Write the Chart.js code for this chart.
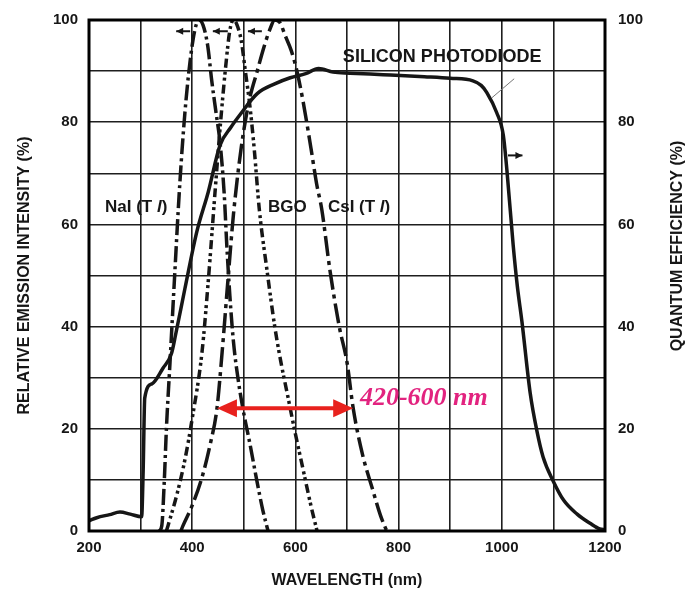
<!DOCTYPE html>
<html>
<head>
<meta charset="utf-8">
<script src="https://cdn.jsdelivr.net/npm/chart.js@4.4.1/dist/chart.umd.min.js"></script>
<style>
  html, body { margin: 0; padding: 0; background: #fff; }
</style>
</head>
<body>
<canvas id="spectra" width="687" height="594"></canvas>
<script>
// Scintillator emission spectra vs. silicon photodiode quantum efficiency

// silicon photodiode (right axis, %)
const siliconNm = [200, 215, 240, 260, 280, 302, 305, 308, 322, 343, 360, 368, 386, 409, 431, 454, 475, 493, 526, 560, 590, 620, 645, 673, 706, 770, 850, 900, 944, 960, 971, 990, 1003, 1010, 1022, 1030, 1039, 1055, 1068, 1080, 1099, 1120, 1146, 1171, 1190, 1200];
const siliconQE = [2.0, 2.6, 3.2, 3.7, 3.3, 2.8, 12, 26, 28.8, 31.8, 34.8, 38.5, 47.5, 58.6, 66.3, 75.5, 79, 81.5, 85.6, 87.5, 88.7, 89.5, 90.5, 89.8, 89.6, 89.3, 88.9, 88.6, 88.1, 87.2, 85.8, 81.9, 77.4, 70.5, 56, 48, 41, 27, 19.6, 14.5, 9.9, 6, 3.3, 1.5, 0.4, 0.3];

// NaI(Tl) emission (left axis, %)
const naiNm  = [336, 341, 346, 350, 357, 366, 376, 386, 396, 405, 413, 421, 430, 438, 446, 454, 462, 467, 473, 480, 490, 500, 512, 525, 537, 547];
const naiInt = [0, 1, 10, 20, 33, 50, 68, 82, 92, 98, 100, 99, 95, 88, 82, 76, 66, 56, 46, 37, 29, 23, 17, 10, 4, 0];

// BGO emission
const bgoNm  = [350, 353, 370, 386, 400, 419, 432, 444, 455, 465, 473, 480, 487, 495, 503, 512, 520, 530, 545, 560, 572, 584, 600, 615, 630, 642];
const bgoInt = [0, 1, 7, 14, 22, 35, 50, 66, 80, 91, 98, 100, 99, 96, 90, 83, 75, 63, 51, 40, 33, 27, 19, 12, 5, 0];

// CsI(Tl) emission
const csiNm  = [378, 382, 400, 419, 435, 448, 458, 470, 480, 495, 510, 526, 540, 550, 560, 570, 580, 592, 603, 615, 630, 641, 651, 667, 685, 700, 712, 730, 750, 765, 777];
const csiInt = [0, 1, 5, 10.5, 17, 24, 35, 50, 62, 75, 84, 90, 95, 98, 100, 99.5, 97, 94, 90, 84, 75, 68, 63, 51, 40, 33, 24, 15, 8, 3, 0];

const FONT = "'Liberation Sans', Arial, sans-serif";
const INK = '#161616';

function points(xs, ys) {
    return xs.map((x, i) => ({ x: x, y: ys[i] }));
}

function curve(label, xs, ys, dash, axis) {
    return {
        label: label,
        data: points(xs, ys),
        yAxisID: axis || 'y',
        borderColor: INK,
        borderWidth: 3.5,
        borderDash: dash,
        borderCapStyle: 'butt',
        pointRadius: 0,
        fill: false,
        cubicInterpolationMode: 'monotone',
    };
}

// little left/right pointing arrows, red range arrow, labels, frame
const annotations = {
    id: 'annotations',
    beforeDraw(chart) {
        const ctx = chart.ctx;
        ctx.save();
        ctx.fillStyle = '#fff';
        ctx.fillRect(0, 0, chart.width, chart.height);
        ctx.restore();
    },
    afterDatasetsDraw(chart) {
        const ctx = chart.ctx;
        const xs = chart.scales.x, ys = chart.scales.y;
        const px = v => xs.getPixelForValue(v);
        const py = v => ys.getPixelForValue(v);
        const area = chart.chartArea;

        ctx.save();

        // frame
        ctx.strokeStyle = '#000';
        ctx.lineWidth = 3;
        ctx.strokeRect(area.left, area.top, area.right - area.left, area.bottom - area.top);

        // small axis pointers
        function pointer(x0, x1, v, head) {
            const y = py(v);
            ctx.strokeStyle = INK;
            ctx.fillStyle = INK;
            ctx.lineWidth = 2;
            ctx.beginPath();
            ctx.moveTo(px(x0), y);
            ctx.lineTo(px(x1), y);
            ctx.stroke();
            const hx = px(head === 'left' ? x0 : x1);
            const d = head === 'left' ? 7 : -7;
            ctx.beginPath();
            ctx.moveTo(hx, y);
            ctx.lineTo(hx + d, y - 3.5);
            ctx.lineTo(hx + d, y + 3.5);
            ctx.closePath();
            ctx.fill();
        }
        pointer(369, 396, 97.8, 'left');
        pointer(440, 469, 97.8, 'left');
        pointer(508, 535, 97.8, 'left');
        pointer(1012, 1040, 73.5, 'right');

        // leader line from label to photodiode curve
        ctx.strokeStyle = '#777';
        ctx.lineWidth = 1;
        ctx.beginPath();
        ctx.moveTo(px(1024), py(88.5));
        ctx.lineTo(px(981), py(84.8));
        ctx.stroke();

        // red range arrow
        const ay = py(24);
        const ax0 = px(448), ax1 = px(712);
        ctx.strokeStyle = '#e8211d';
        ctx.fillStyle = '#e8211d';
        ctx.lineWidth = 4;
        ctx.beginPath();
        ctx.moveTo(ax0 + 14, ay);
        ctx.lineTo(ax1 - 14, ay);
        ctx.stroke();
        [[ax0, 1], [ax1, -1]].forEach(([hx, dir]) => {
            ctx.beginPath();
            ctx.moveTo(hx, ay);
            ctx.lineTo(hx + dir * 20, ay - 9);
            ctx.lineTo(hx + dir * 20, ay + 9);
            ctx.closePath();
            ctx.fill();
        });

        ctx.font = "italic bold 26px 'Liberation Serif', 'Times New Roman', serif";
        ctx.fillStyle = '#e2237f';
        ctx.textBaseline = 'middle';
        ctx.textAlign = 'left';
        ctx.fillText('420-600 nm', px(725), py(25.9));

        // curve labels (italic l in Tl)
        function label(parts, nm, v, size) {
            let x = px(nm);
            const y = py(v);
            ctx.fillStyle = INK;
            parts.forEach(([txt, italic]) => {
                ctx.font = (italic ? 'italic ' : '') + 'bold ' + size + 'px ' + FONT;
                ctx.fillText(txt, x, y);
                x += ctx.measureText(txt).width;
            });
        }
        label([['NaI (T ', false], ['l', true], [')', false]], 231, 63.4, 17);
        label([['BGO', false]], 547, 63.4, 17);
        label([['CsI (T ', false], ['l', true], [')', false]], 663, 63.4, 17);
        label([['SILICON PHOTODIODE', false]], 692, 92.8, 18);

        // right axis title, reading bottom to top
        ctx.font = 'bold 16px ' + FONT;
        ctx.fillStyle = INK;
        ctx.textAlign = 'center';
        ctx.translate(678, 246);
        ctx.rotate(-Math.PI / 2);
        ctx.fillText('QUANTUM EFFICIENCY (%)', 0, 0);

        ctx.restore();
    }
};

const tickFont = { family: FONT, size: 15, weight: 'bold' };
const gridStyle = { color: '#1e1e1e', lineWidth: 1.6, drawTicks: false };

new Chart(document.getElementById('spectra'), {
    type: 'line',
    data: {
        datasets: [
            curve('Silicon photodiode', siliconNm, siliconQE, [], 'y2'),
            curve('NaI(Tl)', naiNm, naiInt, [16, 4, 3, 4]),
            curve('BGO', bgoNm, bgoInt, [9, 4, 3, 3, 3, 4]),
            curve('CsI(Tl)', csiNm, csiInt, [20, 5, 4, 5]),
        ]
    },
    options: {
        responsive: false,
        animation: false,
        layout: { padding: { top: 17, left: 0, right: 0, bottom: 0 } },
        plugins: {
            legend: { display: false },
            tooltip: { enabled: false },
        },
        scales: {
            x: {
                type: 'linear',
                min: 200,
                max: 1200,
                grid: gridStyle,
                border: { display: false },
                ticks: {
                    stepSize: 100,
                    padding: 8,
                    maxRotation: 0,
                    autoSkip: false,
                    color: INK,
                    font: tickFont,
                    callback: v => (v % 200 === 0 ? v : ''),
                },
                title: {
                    display: true,
                    text: 'WAVELENGTH (nm)',
                    color: INK,
                    font: { family: FONT, size: 16, weight: 'bold' },
                    padding: { top: 0, bottom: 4 },
                },
                afterFit(s) { s.height = 63; },
            },
            y: {
                position: 'left',
                min: 0,
                max: 100,
                grid: gridStyle,
                border: { display: false },
                ticks: {
                    stepSize: 10,
                    padding: 11,
                    autoSkip: false,
                    color: INK,
                    font: tickFont,
                    callback: v => (v % 20 === 0 ? v : ''),
                },
                title: {
                    display: true,
                    text: 'RELATIVE EMISSION INTENSITY (%)',
                    color: INK,
                    font: { family: FONT, size: 16, weight: 'bold' },
                    padding: { top: 15, bottom: 0 },
                },
                afterFit(s) { s.width = 89; },
            },
            y2: {
                position: 'right',
                min: 0,
                max: 100,
                grid: { display: false },
                border: { display: false },
                ticks: {
                    stepSize: 10,
                    padding: 5,
                    autoSkip: false,
                    color: INK,
                    font: tickFont,
                    callback: v => (v % 20 === 0 ? v : ''),
                },
                afterFit(s) { s.width = 82; },
            },
        }
    },
    plugins: [annotations]
});
</script>
</body>
</html>
